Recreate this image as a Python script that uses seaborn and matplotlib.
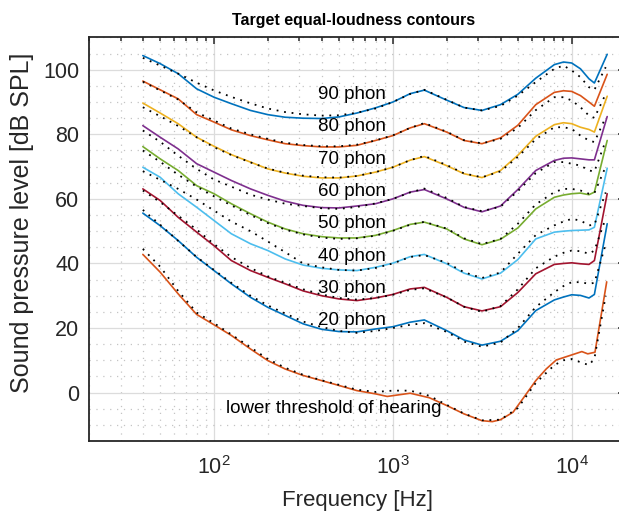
import numpy as np
import pandas as pd
import matplotlib
matplotlib.use("Agg")
import matplotlib.pyplot as plt
import matplotlib.ticker as mticker
import seaborn as sns

# frequencies [Hz]
freq = [40, 50, 63, 80, 100, 125, 160, 200, 250, 315, 400, 500, 630, 800, 1000,
        1250, 1500, 2000, 2500, 3150, 4000, 5000, 6300, 8000, 9000, 10000,
        11200, 12500, 13400, 15800]
freq_iso = freq[:-1] + [15500]
freq_thr = [40, 50, 63, 80, 100, 125, 160, 200, 250, 315, 400, 500, 630, 800, 930,
            1250, 1600, 2000, 2500, 3150, 3600, 4000, 4700, 5400, 6300, 7200,
            8200, 9800, 11400, 12300, 13500, 15700]
freq_thr_iso = [40, 50, 63, 80, 100, 125, 160, 200, 250, 315, 400, 500, 630, 800,
                1000, 1250, 1600, 2000, 2500, 3150, 4000, 5000, 6300, 8000, 9000,
                10000, 11200, 12500, 13400, 15500]

# target contours [dB SPL]
phon90 = [104.4, 101.9, 98.8, 94.1, 91.5, 89.5, 87.4, 86.1, 85.3, 85.0, 84.9, 85.4, 86.6, 88.2, 90.0,
          92.6, 93.7, 90.6, 88.3, 87.4, 89.2, 92.4, 97.4, 101.6, 102.4, 102.1, 100.3, 97.2, 95.9, 104.8]
phon80 = [96.5, 93.8, 91.0, 86.1, 83.8, 81.4, 79.6, 78.3, 77.1, 76.5, 76.1, 76.1, 76.6, 78.1, 79.6,
          82.0, 83.3, 80.7, 78.1, 77.1, 78.9, 82.8, 89.2, 93.0, 93.5, 93.3, 92.0, 90.0, 88.7, 98.6]
phon70 = [89.7, 86.6, 83.3, 79.1, 76.3, 73.7, 71.4, 69.3, 68.0, 67.0, 66.5, 66.5, 67.1, 68.3, 69.8,
          72.0, 73.1, 70.3, 67.8, 66.6, 68.8, 73.5, 79.4, 83.0, 83.6, 83.3, 82.2, 81.5, 80.7, 91.8]
phon60 = [82.7, 79.1, 75.5, 70.9, 68.3, 65.7, 63.1, 61.1, 59.3, 58.0, 57.3, 57.2, 57.8, 58.5, 60.0,
          62.1, 62.9, 60.0, 57.4, 56.0, 57.8, 62.9, 68.8, 71.9, 72.6, 72.7, 72.4, 72.1, 72.1, 85.5]
phon50 = [76.2, 72.4, 68.8, 64.1, 61.6, 58.5, 55.4, 52.8, 50.7, 49.2, 48.3, 47.9, 47.9, 48.7, 50.2,
          52.1, 52.8, 50.7, 47.6, 45.8, 47.5, 51.0, 56.9, 60.5, 61.2, 61.6, 61.8, 61.3, 62.1, 78.1]
phon40 = [69.8, 66.7, 61.6, 57.4, 53.3, 49.2, 46.1, 44.0, 41.4, 39.5, 38.5, 38.0, 37.8, 38.8, 40.1,
          42.1, 42.8, 39.9, 37.0, 35.2, 37.0, 41.2, 47.6, 49.7, 50.0, 50.2, 50.3, 50.4, 51.2, 69.5]
phon30 = [63.1, 59.5, 54.3, 49.7, 45.5, 40.9, 37.8, 35.7, 33.7, 31.5, 30.0, 29.0, 28.5, 29.3, 30.4,
          32.1, 32.6, 29.5, 26.6, 25.3, 26.6, 31.0, 36.8, 39.7, 40.0, 40.2, 39.9, 39.7, 40.9, 61.6]
phon20 = [55.6, 51.7, 47.1, 41.9, 37.8, 33.7, 29.5, 26.4, 23.9, 21.3, 19.6, 18.9, 18.8, 19.7, 20.4,
          21.8, 22.5, 19.2, 16.3, 14.7, 15.9, 19.2, 25.4, 28.7, 29.6, 30.3, 30.1, 29.3, 30.4, 52.3]
threshold = [42.8, 37.3, 30.6, 24.2, 21.0, 17.7, 13.5, 9.9, 7.3, 5.3, 3.7, 2.2, 0.6, -0.4, -1.2,
             -0.2, -1.6, -4.0, -6.6, -8.7, -9.0, -8.4, -6.1, -1.5, 3.7, 7.3, 10.1, 11.5, 12.7, 12.0, 12.5, 34.3]

# reference contours (dotted)
iso90 = [103.7, 101.3, 98.8, 96.0, 93.6, 91.6, 89.6, 88.0, 86.9, 86.2, 85.8, 85.9, 86.7, 88.0, 90.0,
         92.5, 93.8, 90.7, 88.3, 87.4, 88.8, 92.0, 96.2, 100.3, 101.3, 99.8, 97.7, 94.6, 93.8, 100.8]
iso80 = [96.3, 93.6, 90.8, 86.8, 84.3, 81.8, 80.0, 78.6, 77.4, 76.7, 76.3, 76.3, 76.8, 78.1, 79.7,
         82.0, 83.5, 80.8, 78.2, 77.2, 78.6, 82.0, 87.5, 91.5, 91.5, 90.5, 88.4, 85.8, 85.1, 92.5]
iso70 = [88.4, 85.6, 82.6, 79.1, 76.0, 73.6, 71.3, 69.4, 68.1, 67.2, 66.7, 66.6, 67.1, 68.3, 69.8,
         72.0, 73.3, 70.5, 67.9, 66.7, 68.5, 73.0, 78.5, 82.2, 82.2, 81.7, 79.6, 78.1, 77.6, 85.3]
iso60 = [81.2, 77.7, 73.4, 69.3, 66.0, 63.8, 61.3, 59.8, 58.5, 57.8, 57.1, 56.9, 57.5, 58.6, 60.0,
         62.0, 63.2, 60.3, 57.5, 56.2, 57.6, 62.4, 68.0, 71.4, 71.4, 70.9, 70.3, 68.8, 68.5, 78.0]
iso50 = [75.0, 71.5, 67.5, 63.8, 60.8, 58.0, 55.0, 52.5, 50.5, 49.0, 48.0, 47.6, 47.8, 48.6, 50.1,
         52.0, 52.9, 50.8, 47.8, 46.0, 47.6, 52.3, 58.3, 62.1, 63.1, 63.1, 62.6, 61.6, 61.8, 70.0]
iso40 = [68.6, 65.9, 63.1, 59.8, 56.4, 53.0, 50.0, 46.8, 43.5, 40.0, 38.8, 38.0, 37.8, 38.6, 40.0,
         42.0, 42.6, 40.2, 37.3, 35.5, 37.2, 43.0, 48.8, 51.8, 53.0, 53.8, 53.3, 51.8, 52.0, 62.0]
iso30 = [62.6, 59.0, 54.8, 50.5, 46.0, 42.0, 38.6, 36.0, 34.0, 32.0, 30.4, 29.3, 28.8, 29.3, 30.3,
         31.8, 32.3, 29.5, 26.6, 25.0, 26.8, 32.0, 38.5, 42.1, 43.3, 44.0, 43.8, 43.0, 44.0, 54.0]
iso20 = [56.6, 52.0, 47.0, 42.0, 38.0, 34.0, 30.0, 27.0, 24.5, 22.0, 20.3, 19.1, 18.5, 19.1, 20.0,
         21.0, 21.5, 18.8, 15.8, 14.2, 15.5, 20.0, 26.5, 31.1, 33.0, 34.2, 34.2, 33.7, 34.0, 46.0]
iso_thr = [44.5, 39.0, 31.5, 24.8, 21.5, 18.0, 14.0, 10.4, 7.7, 5.5, 3.8, 2.4, 0.9, 0.2, 0.6,
           0.6, -1.0, -3.8, -6.5, -8.6, -8.4, -4.8, 3.0, 8.5, 10.0, 10.4, 9.4, 8.5, 10.5, 30.0]

levels = [90, 80, 70, 60, 50, 40, 30, 20]
target_curves = [phon90, phon80, phon70, phon60, phon50, phon40, phon30, phon20]
iso_curves = [iso90, iso80, iso70, iso60, iso50, iso40, iso30, iso20]

matlab_colors = ["#0072BD", "#D95319", "#EDB120", "#7E2F8E", "#77AC30",
                 "#4DBEEE", "#A2142F", "#0072BD", "#D95319"]

rows = []
for lvl, vals in zip(levels, target_curves):
    rows += [{"curve": f"{lvl} phon", "freq": f, "spl": v} for f, v in zip(freq, vals)]
rows += [{"curve": "threshold", "freq": f, "spl": v} for f, v in zip(freq_thr, threshold)]
target_df = pd.DataFrame(rows)

rows = []
for lvl, vals in zip(levels, iso_curves):
    rows += [{"curve": f"{lvl} phon", "freq": f, "spl": v} for f, v in zip(freq_iso, vals)]
rows += [{"curve": "threshold", "freq": f, "spl": v} for f, v in zip(freq_thr_iso, iso_thr)]
iso_df = pd.DataFrame(rows)

sns.set_theme(style="white")
plt.rcParams["font.family"] = ["Liberation Sans", "DejaVu Sans"]
plt.rcParams["mathtext.fontset"] = "custom"
plt.rcParams["mathtext.rm"] = "Liberation Sans"

fig = plt.figure(figsize=(6.19, 5.23), dpi=100)
ax = fig.add_axes([0.1438, 0.1568, 0.8667, 0.7715])

order = [f"{l} phon" for l in levels] + ["threshold"]
palette = dict(zip(order, matlab_colors))
sns.lineplot(data=target_df, x="freq", y="spl", hue="curve", hue_order=order,
             palette=palette, units="curve", estimator=None, sort=False,
             linewidth=1.2, legend=False, ax=ax)
sns.lineplot(data=iso_df, x="freq", y="spl", units="curve", estimator=None,
             sort=False, color="black", linewidth=1.3, linestyle=(0, (1, 3.2)),
             legend=False, ax=ax)

ax.set_xscale("log")
ax.set_xlim(20, 20000)
ax.set_ylim(-15, 110)
ax.yaxis.set_major_locator(mticker.MultipleLocator(20))
ax.yaxis.set_minor_locator(mticker.MultipleLocator(5))
ax.xaxis.set_major_locator(mticker.LogLocator(base=10))
ax.xaxis.set_minor_locator(mticker.LogLocator(base=10, subs=np.arange(2, 10)))
ax.xaxis.set_minor_formatter(mticker.NullFormatter())

ax.grid(which="major", color="#dcdcdc", linewidth=0.9, linestyle="-")
ax.grid(which="minor", color="#c4c4c4", linewidth=0.9, linestyle=(0, (1, 4.5)))
ax.set_axisbelow(True)

ax.tick_params(which="both", direction="in", top=True, right=True,
               labelsize=15.5, colors="#262626", width=1.1)
ax.tick_params(which="major", length=5)
ax.tick_params(axis="x", which="major", pad=11)
ax.tick_params(axis="y", which="major", pad=7)
ax.tick_params(axis="x", which="minor", length=3)
ax.tick_params(axis="y", which="minor", length=0)
for sp in ax.spines.values():
    sp.set_color("#262626")
    sp.set_linewidth(1.3)

for lvl in levels:
    ax.text(380, lvl + 2.3, f"{lvl} phon", fontsize=13.5, ha="left", va="center",
            color="black")
ax.text(116, -4.8, "lower threshold of hearing", fontsize=13.5, ha="left",
        va="center", color="black")

ax.set_xlabel("Frequency [Hz]", fontsize=16, color="#262626", labelpad=8)
ax.set_ylabel("Sound pressure level [dB SPL]", fontsize=18, color="#262626")
ax.yaxis.set_label_coords(-0.102, 0.54)
fig.text(0.5705, 0.961, "Target equal-loudness contours", fontsize=11.5, fontweight="bold",
         ha="center", va="center", color="black")

fig.savefig("out.png", dpi=100)
